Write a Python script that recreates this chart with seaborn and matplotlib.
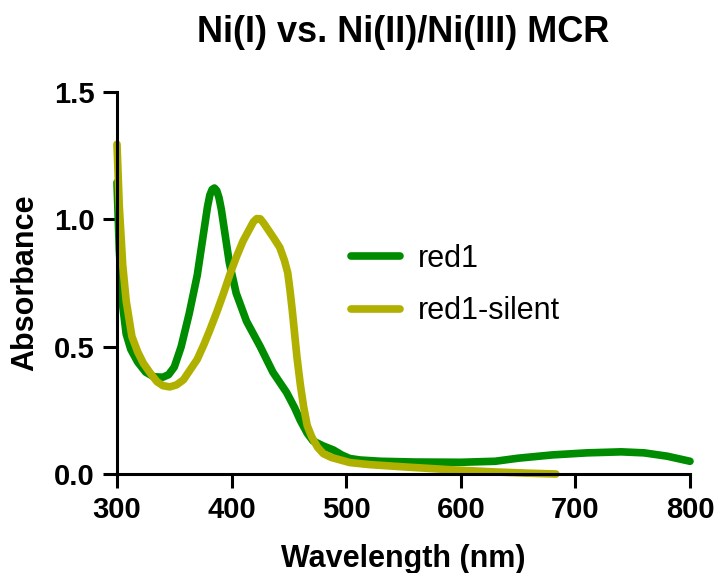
import numpy as np
import pandas as pd
import matplotlib
matplotlib.use("Agg")
import matplotlib.pyplot as plt
import seaborn as sns

# Spectra (wavelength in nm, absorbance)
red1_wl = [300, 302, 305, 308, 312, 318, 325, 332, 340, 345, 350, 356, 363, 370,
           376, 379, 381, 383, 385, 387, 389, 391, 394, 398, 404, 413, 425, 436,
           448, 455, 460, 466, 471, 480, 489, 496, 503, 512, 530, 560, 600, 630,
           650, 680, 710, 740, 760, 780, 800]
red1_abs = [1.145, 0.88, 0.66, 0.55, 0.49, 0.44, 0.40, 0.382, 0.38, 0.39, 0.42, 0.50,
            0.63, 0.78, 0.96, 1.05, 1.095, 1.117, 1.123, 1.113, 1.085, 1.04, 0.95,
            0.83, 0.71, 0.60, 0.50, 0.40, 0.32, 0.26, 0.21, 0.16, 0.13, 0.11, 0.094,
            0.075, 0.061, 0.055, 0.05, 0.047, 0.046, 0.05, 0.062, 0.075, 0.083,
            0.087, 0.083, 0.07, 0.05]

silent_wl = [300, 302, 305, 308, 313, 318, 323, 330, 335, 340, 346, 352, 358, 364,
             370, 376, 381, 387, 393, 399, 404, 410, 416, 419, 422, 425, 428, 431,
             437, 442, 446, 449, 451, 453, 455, 457, 460, 463, 466, 470, 475, 480,
             487, 495, 503, 520, 550, 590, 630, 660, 683]
silent_abs = [1.295, 1.05, 0.82, 0.68, 0.54, 0.48, 0.435, 0.39, 0.362, 0.347, 0.342,
              0.35, 0.37, 0.41, 0.45, 0.51, 0.565, 0.635, 0.71, 0.79, 0.85, 0.915,
              0.965, 0.99, 1.003, 1.002, 0.985, 0.965, 0.925, 0.89, 0.84, 0.79, 0.72,
              0.64, 0.55, 0.46, 0.35, 0.26, 0.19, 0.145, 0.105, 0.08, 0.065, 0.055,
              0.045, 0.037, 0.028, 0.017, 0.008, 0.003, 0.0]

series_names = ["red1", "red1-silent"]
series_colors = ["#008C00", "#B0B000"]

df = pd.concat([
    pd.DataFrame({"Wavelength": red1_wl, "Absorbance": red1_abs, "Sample": series_names[0]}),
    pd.DataFrame({"Wavelength": silent_wl, "Absorbance": silent_abs, "Sample": series_names[1]}),
], ignore_index=True)

sns.set_style("ticks")
plt.rcParams["font.family"] = ["Liberation Sans", "DejaVu Sans"]
plt.rcParams["text.color"] = "black"
plt.rcParams["axes.labelcolor"] = "black"
plt.rcParams["xtick.color"] = "black"
plt.rcParams["ytick.color"] = "black"

fig = plt.figure(figsize=(7.15, 5.73), dpi=100)
ax = fig.add_axes([117 / 715, 1 - 474 / 573, (690 - 117) / 715, (474 - 92) / 573])

sns.lineplot(data=df, x="Wavelength", y="Absorbance", hue="Sample",
             palette=dict(zip(series_names, series_colors)), sort=False,
             linewidth=5.5, ax=ax, legend=True)
for ln in ax.lines:
    ln.set_solid_capstyle("round")
    ln.set_solid_joinstyle("round")
    ln.set_clip_on(False)

ax.set_xlim(300, 800)
ax.set_ylim(0, 1.5)
ax.set_xticks([300, 400, 500, 600, 700, 800])
ax.set_yticks([0.0, 0.5, 1.0, 1.5])
ax.set_yticklabels(["0.0", "0.5", "1.0", "1.5"])

for side in ["top", "right"]:
    ax.spines[side].set_visible(False)
for side in ["left", "bottom"]:
    ax.spines[side].set_linewidth(2.2)
    ax.spines[side].set_color("black")

ax.tick_params(axis="both", direction="out", length=10, width=2.2, color="black",
               labelcolor="black", labelsize=21, pad=6)
for lbl in ax.get_xticklabels() + ax.get_yticklabels():
    lbl.set_fontweight("bold")

ax.set_xlabel("Wavelength (nm)", fontsize=22, fontweight="bold", labelpad=14, color="black")
ax.set_ylabel("Absorbance", fontsize=22, fontweight="bold", labelpad=10, color="black")
ax.set_title("Ni(I) vs. Ni(II)/Ni(III) MCR", fontsize=26, fontweight="bold", pad=36,
             color="black")

handles, labels = ax.get_legend_handles_labels()
leg = ax.legend(handles, labels, loc="center left",
                bbox_to_anchor=(351 / 715, 1 - 285 / 573),
                bbox_transform=fig.transFigure, frameon=False,
                fontsize=22, handlelength=1.6, handletextpad=0.6,
                labelspacing=0.75, borderpad=0, borderaxespad=0)
for h in leg.get_lines():
    h.set_linewidth(5.5)
    h.set_solid_capstyle("round")
for t in leg.get_texts():
    t.set_color("black")

fig.savefig("out.png", dpi=100)
